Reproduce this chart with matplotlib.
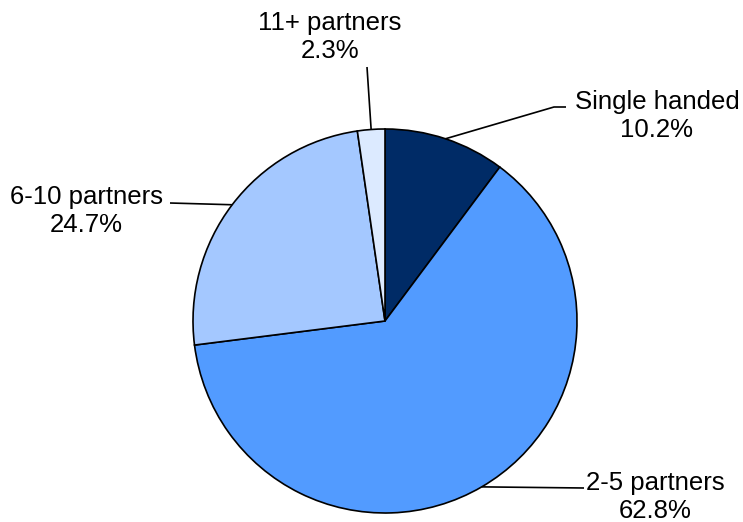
import numpy as np
import matplotlib
matplotlib.use("Agg")
import matplotlib.pyplot as plt

labels = ["Single handed", "2-5 partners", "6-10 partners", "11+ partners"]
shares = [10.2, 62.8, 24.7, 2.3]
colors = ["#002B66", "#529BFF", "#A4C8FF", "#DCEAFF"]

W, H = 743, 522
fig = plt.figure(figsize=(W / 100, H / 100), dpi=100)
ax = fig.add_axes([0, 0, 1, 1])

cx, cy, r = 385, H - 321, 192
wedges, _ = ax.pie(shares, colors=colors, startangle=90, counterclock=False,
                   center=(cx, cy), radius=r, frame=True,
                   wedgeprops=dict(edgecolor="black", linewidth=1.2))
ax.set_xlim(0, W)
ax.set_ylim(0, H)
ax.set_aspect("equal")
ax.axis("off")

# elbow of each leader line and label placement (pixel space, y measured from top)
elbows = [[(554, 107), (566, 107)], [(584, 488)], [(170, 203)], [(367, 67)]]
text_pos = [(657, 116), (655, 497), (86, 211), (330, 37)]

for w, lab, val, elb, tp in zip(wedges, labels, shares, elbows, text_pos):
    ang = np.deg2rad((w.theta1 + w.theta2) / 2)
    x0, y0 = cx + r * np.cos(ang), cy + r * np.sin(ang)
    xs = [x0] + [p[0] for p in elb]
    ys = [y0] + [H - p[1] for p in elb]
    ax.plot(xs, ys, color="black", lw=1.2, solid_capstyle="butt")
    ax.text(tp[0], H - tp[1], f"{lab}\n{val:.1f}%", ha="center", va="center",
            fontsize=18.5, family="Liberation Sans", linespacing=1.25)

fig.savefig("out.png", dpi=100)
